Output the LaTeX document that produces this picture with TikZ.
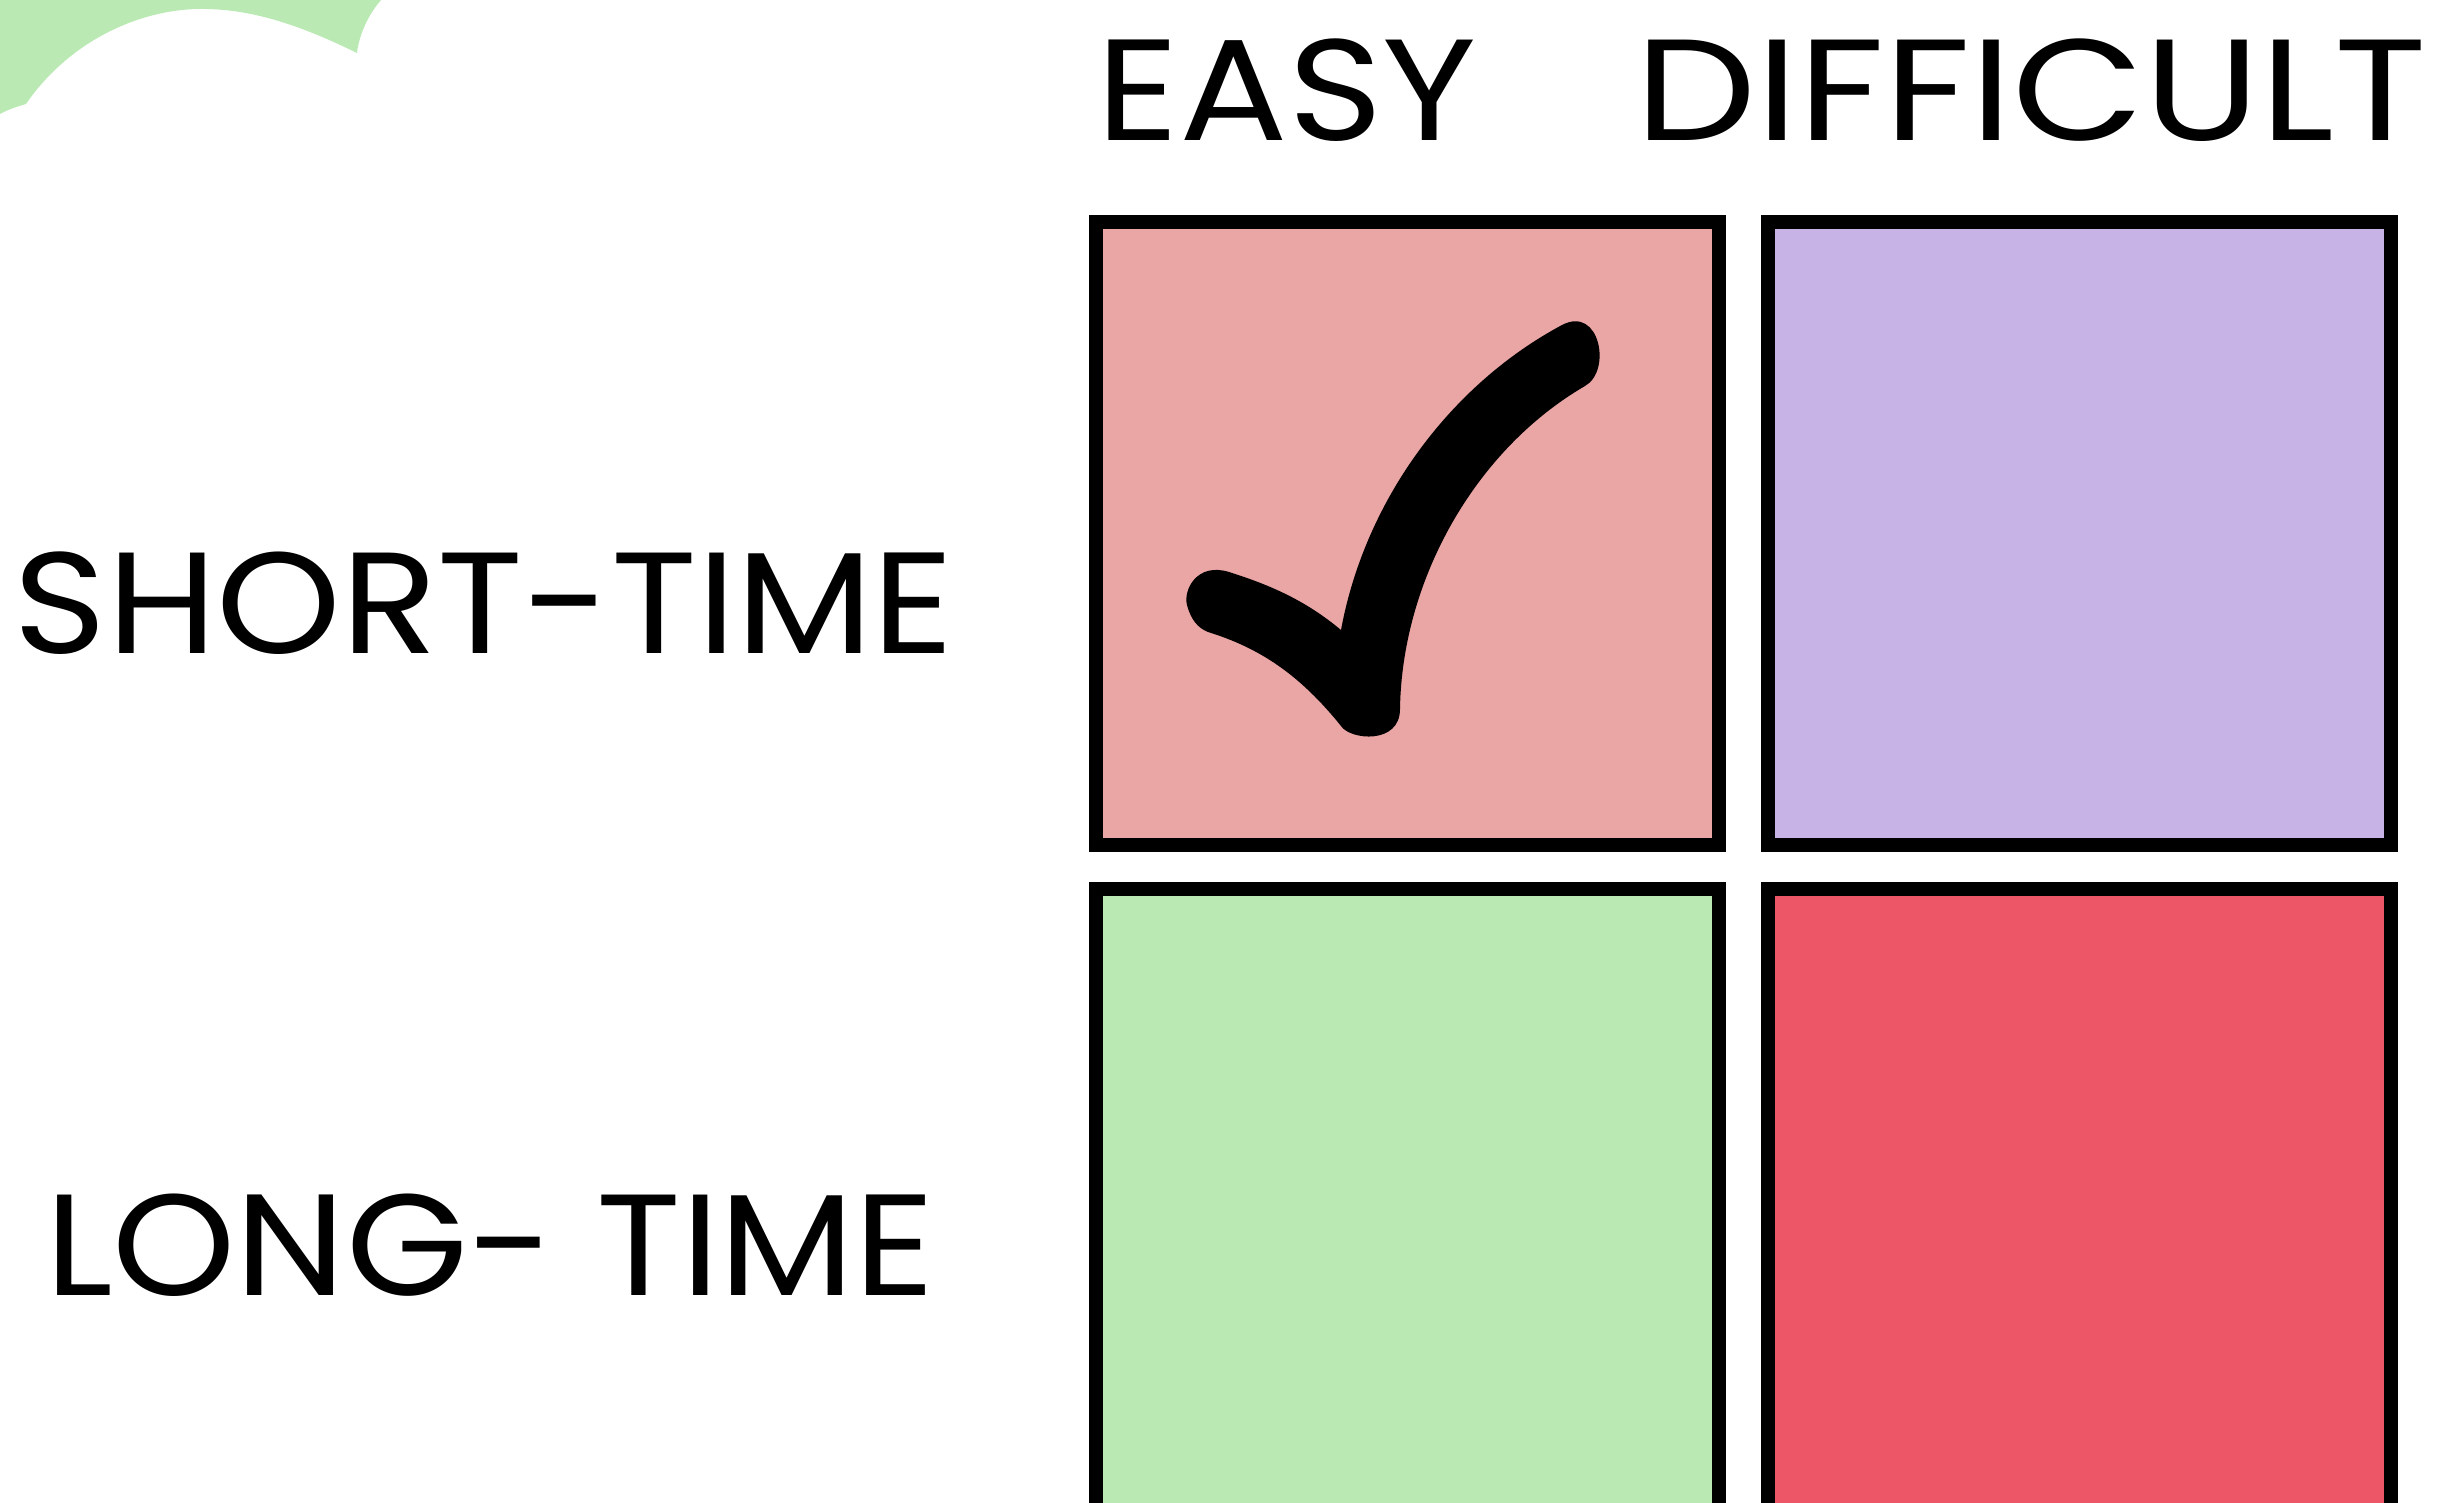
\documentclass[tikz,border=0pt]{standalone}
\usepackage{fontspec}
\setmainfont{Poppins}
\usetikzlibrary{positioning}

\definecolor{quickpink}{RGB}{234,165,165}
\definecolor{hardlilac}{RGB}{200,179,230}
\definecolor{slowgreen}{RGB}{187,233,180}
\definecolor{hardred}{RGB}{236,86,103}

% stretch a label to a given width, keeping its height
\newcommand\widelbl[2]{\resizebox{#1}{\height}{#2}}

\begin{document}
\begin{tikzpicture}[x=0.1mm, y=-0.1mm,
  cell/.style={draw=black, line width=1.4mm, rectangle, inner sep=0pt,
    minimum width=62.3mm, minimum height=62.3mm},
  lbl/.style={font=\fontsize{41}{41}\selectfont, inner sep=0pt},
]
\useasboundingbox (0,0) rectangle (2442,1502);
\clip (0,0) rectangle (2442,1502);

%==== corner blob ====
\fill[slowgreen] (0,0) -- (381,0) .. controls (368,15) and (359,35) .. (357,53)
  .. controls (300,25) and (250,8) .. (198,9)
  .. controls (140,10) and (70,40) .. (26,104)
  .. controls (15,107) and (5,111) .. (0,114) -- cycle;

%==== column heads ====
\node[lbl] (easy) at (1287,90) {\widelbl{38.0mm}{EASY}};
\node[lbl] (hard) at (2031,90) {\widelbl{79.2mm}{DIFFICULT}};

%==== row heads ====
\node[lbl] (short) at (484,603) {\widelbl{94.0mm}{SHORT-TIME}};
\node[lbl] (long)  at (490,1245) {\widelbl{89.0mm}{LONG- TIME}};

%==== quadrants ====
\node[cell, fill=quickpink] (se) at (1407,533) {};
\node[cell, fill=hardlilac] (sd) at (2079,533) {};
\node[cell, fill=slowgreen] (le) at (1407,1200) {};
\node[cell, fill=hardred]   (ld) at (2079,1200) {};

%==== tick ====
\fill[black] (1208,632) .. controls (1260,648) and (1300,675) .. (1341,726)
  .. controls (1350,740) and (1400,745) .. (1400,709)
  .. controls (1402,580) and (1475,450) .. (1585,386)
  .. controls (1612,371) and (1600,305) .. (1562,325)
  .. controls (1450,385) and (1365,500) .. (1341,630)
  .. controls (1305,600) and (1270,585) .. (1229,572)
  .. controls (1197,562) and (1183,590) .. (1187,605)
  .. controls (1191,620) and (1198,628) .. (1208,632) -- cycle;

\end{tikzpicture}
\end{document}
